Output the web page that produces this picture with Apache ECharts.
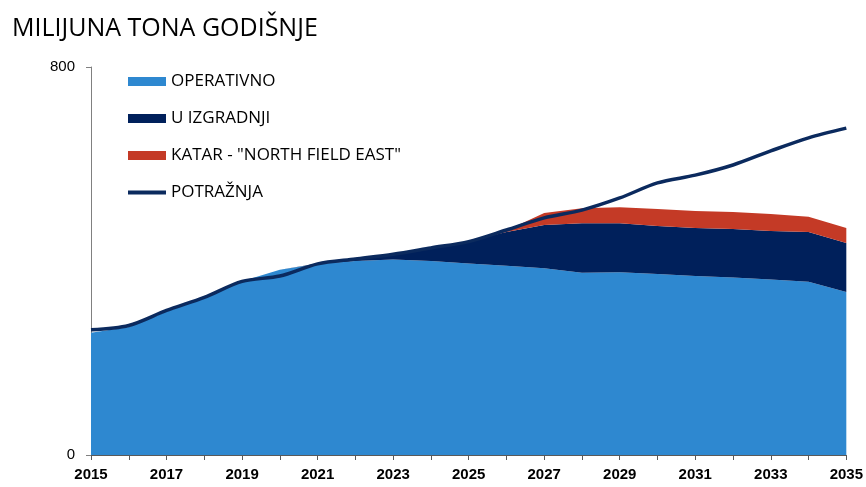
<!DOCTYPE html>
<html>
<head>
<meta charset="utf-8">
<script src="https://cdn.jsdelivr.net/npm/echarts@6/dist/echarts.min.js"></script>
<style>
html,body{margin:0;padding:0;background:#fff;}
#charts{width:866px;height:487px;}
</style>
</head>
<body>
<div id="charts"></div>
<script>
// milijuna tona godisnje, ocitano sa slike
var years = ['2015','2016','2017','2018','2019','2020','2021','2022','2023','2024','2025',
	'2026','2027','2028','2029','2030','2031','2032','2033','2034','2035'];
var operativno = [252,264,296,323,358,382,394,400,403,400,395,390,385,376,377,373,369,366,362,357,336];
var uIzgradnji = [0,0,0,0,0,0,1,5,12,28,46,70,89,102,101,99,99,100,100,103,101];
var katar = [0,0,0,0,0,0,0,0,0,0,0,3,25,31,33,35,35,35,35,31,31];
var potraznja = [258,267,298,325,358,369,394,404,414,427,440,464,489,505,530,561,577,598,627,654,674];
var yTicks = [0, 800];

var fontName = 'Liberation Sans';

function areaSeries(name, color, data){
	return {
		name: name,
		type: 'line',
		stack: 'ponuda',
		symbol: 'none',
		lineStyle: {width: 0},
		areaStyle: {color: color, opacity: 1},
		itemStyle: {color: color},
		emphasis: {disabled: true},
		data: data
	};
}

var charts = echarts.init(document.getElementById('charts'));
var options = {
	animation: false,
	title: {
		text: 'MILIJUNA TONA GODIŠNJE',
		left: 7,
		top: 11,
		textStyle: {fontFamily: 'Open Sans', fontWeight: 'normal', fontSize: 25, color: '#000'}
	},
	legend: {
		orient: 'vertical',
		left: 121,
		top: 68,
		itemWidth: 38,
		itemHeight: 9,
		itemGap: 20,
		textStyle: {fontFamily: 'Open Sans', fontSize: 17, color: '#000'},
		data: [
			{name: 'OPERATIVNO', icon: 'rect'},
			{name: 'U IZGRADNJI', icon: 'rect'},
			{name: 'KATAR - "NORTH FIELD EAST"', icon: 'rect'},
			{name: 'POTRAŽNJA', itemStyle: {opacity: 0}, lineStyle: {width: 4, color: '#0b2a5e'}}
		]
	},
	grid: {left: 91, right: 17, top: 67, bottom: 32},
	xAxis: {
		type: 'category',
		boundaryGap: false,
		data: years,
		axisLine: {lineStyle: {color: '#595959', width: 1}},
		axisTick: {interval: 0, length: 5, lineStyle: {color: '#595959'}},
		axisLabel: {interval: 1, fontFamily: fontName, fontWeight: 'bold', fontSize: 15, color: '#000', margin: 12}
	},
	yAxis: {
		type: 'value',
		min: yTicks[0],
		max: yTicks[1],
		interval: yTicks[1] - yTicks[0],
		splitLine: {show: false},
		axisLine: {show: true, lineStyle: {color: '#808080'}},
		axisTick: {show: true, length: 5, lineStyle: {color: '#808080'}},
		axisLabel: {fontFamily: fontName, fontSize: 15, color: '#000', margin: 16}
	},
	series: [
		areaSeries('OPERATIVNO', '#2e88d0', operativno),
		areaSeries('U IZGRADNJI', '#00205b', uIzgradnji),
		areaSeries('KATAR - "NORTH FIELD EAST"', '#c43a26', katar),
		{
			name: 'POTRAŽNJA',
			type: 'line',
			symbol: 'none',
			smooth: 0.3,
			z: 5,
			lineStyle: {color: '#0b2a5e', width: 3.5},
			itemStyle: {color: '#0b2a5e'},
			data: potraznja
		}
	]
};
charts.setOption(options);
</script>
</body>
</html>
